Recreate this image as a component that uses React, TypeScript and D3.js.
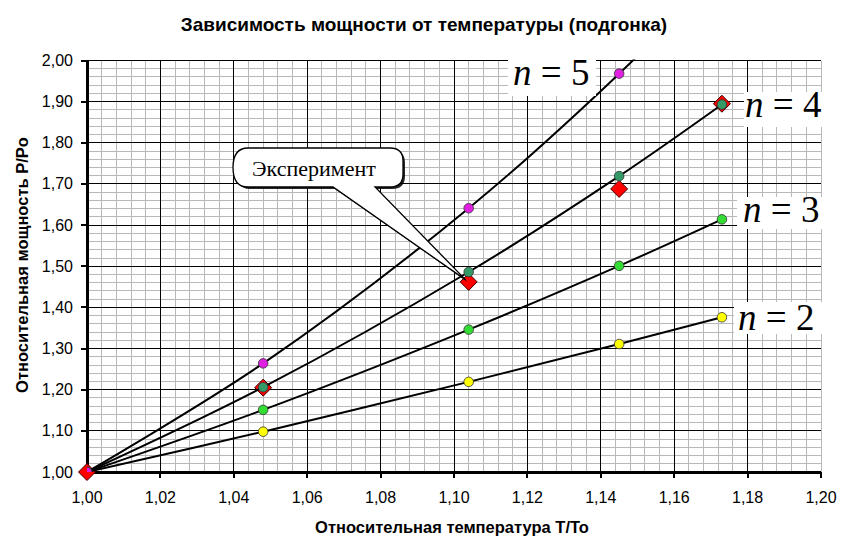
import React from 'react';
import * as d3 from 'd3';

// relative temperature T/To at the measured points
const tRel = [1.0, 1.048, 1.104, 1.145, 1.173];

// fitted curves P/Po for different exponents n
const fitN2 = [1.0, 1.098, 1.219, 1.311, 1.376];
const fitN3 = [1.0, 1.151, 1.346, 1.501, 1.614];
const fitN4 = [1.0, 1.206, 1.486, 1.719, 1.893];
const fitN5 = [1.0, 1.264, 1.641, 1.968, 2.22];

// experiment
const experiment = [1.0, 1.205, 1.462, 1.688, 1.895];

const xTicks = [1.0, 1.02, 1.04, 1.06, 1.08, 1.1, 1.12, 1.14, 1.16, 1.18, 1.2];
const yTicks = [1.0, 1.1, 1.2, 1.3, 1.4, 1.5, 1.6, 1.7, 1.8, 1.9, 2.0];

const series = [
  { name: 'n = 2', label: '2', values: fitN2, color: '#ffff00' },
  { name: 'n = 3', label: '3', values: fitN3, color: '#33dd33' },
  { name: 'n = 4', label: '4', values: fitN4, color: '#339966' },
  { name: 'n = 5', label: '5', values: fitN5, color: '#e020e0' },
];

const W = 847;
const H = 553;
const plot = { left: 87, right: 821, top: 60.5, bottom: 472 };

const fmt = (v: number) => v.toFixed(2).replace('.', ',');

export default function App() {
  const x = d3.scaleLinear().domain([1.0, 1.2]).range([plot.left, plot.right]);
  const y = d3.scaleLinear().domain([1.0, 2.0]).range([plot.bottom, plot.top]);

  const minorX = d3.range(0, 51).map((i) => 1.0 + i * 0.004);
  const minorY = d3.range(0, 51).map((i) => 1.0 + i * 0.02);

  const line = d3
    .line<number>()
    .x((_, i) => x(tRel[i]))
    .y((d) => y(d))
    .curve(d3.curveCatmullRom.alpha(0.5));

  const sans = '"Liberation Sans", Arial, sans-serif';
  const serif = '"Liberation Serif", "Times New Roman", serif';

  // callout pointing at the third experimental point
  const tipX = x(tRel[2]) - 3;
  const tipY = y(experiment[2]) - 2;
  const bx0 = 235, bx1 = 403, by0 = 148, by1 = 187, r = 13;
  const callout = `M${bx0 + r},${by0} H${bx1 - r} Q${bx1},${by0} ${bx1},${by0 + r} V${by1 - r} Q${bx1},${by1} ${bx1 - r},${by1} H375 L${tipX},${tipY} L333,${by1} H${bx0 + r} Q${bx0 - 2},${by1} ${bx0 - 2},${(by0 + by1) / 2} Q${bx0 - 2},${by0} ${bx0 + r},${by0} Z`;

  // "n = k" label boxes
  const labels = [
    { k: '5', bx: 508, by: 58, bw: 88, bh: 38, tx: 513, ty: 85 },
    { k: '4', bx: 744, by: 92, bw: 103, bh: 35, tx: 745, ty: 117 },
    { k: '3', bx: 737, by: 197, bw: 90, bh: 32, tx: 743, ty: 222 },
    { k: '2', bx: 734, by: 302, bw: 92, bh: 32, tx: 738, ty: 330 },
  ];

  return (
    <div style={{ position: 'absolute', left: 0, top: 0 }}>
      <svg width={W} height={H} style={{ display: 'block', background: '#ffffff' }}>
        <defs>
          <clipPath id="plotClip">
            <rect x={plot.left} y={plot.top - 1} width={plot.right - plot.left} height={plot.bottom - plot.top + 1} />
          </clipPath>
        </defs>

        {/* title */}
        <text x={424} y={31} textAnchor="middle" fontFamily={sans} fontWeight="bold" fontSize={19}>
          Зависимость мощности от температуры (подгонка)
        </text>

        {/* minor grid */}
        <g stroke="#b8b8b8" strokeWidth={1} shapeRendering="crispEdges">
          {minorX.map((v, i) => (
            <line key={'mx' + i} x1={x(v)} x2={x(v)} y1={plot.top} y2={plot.bottom} />
          ))}
          {minorY.map((v, i) => (
            <line key={'my' + i} x1={plot.left} x2={plot.right} y1={y(v)} y2={y(v)} />
          ))}
        </g>

        {/* major grid */}
        <g stroke="#000000" strokeWidth={1} shapeRendering="crispEdges">
          {xTicks.slice(0, -1).map((v) => (
            <line key={'gx' + v} x1={x(v)} x2={x(v)} y1={plot.top} y2={plot.bottom} />
          ))}
          {yTicks.map((v) => (
            <line key={'gy' + v} x1={plot.left} x2={plot.right} y1={y(v)} y2={y(v)} />
          ))}
        </g>

        {/* axes */}
        <g stroke="#000000" shapeRendering="crispEdges">
          <line x1={plot.left} x2={plot.left} y1={plot.top} y2={plot.bottom + 1.5} strokeWidth={3} />
          <line x1={plot.left - 1.5} x2={plot.right} y1={plot.bottom} y2={plot.bottom} strokeWidth={3} />
          {yTicks.map((v) => (
            <line key={'ty' + v} x1={plot.left - 6} x2={plot.left} y1={y(v)} y2={y(v)} strokeWidth={2} />
          ))}
          {xTicks.map((v) => (
            <line key={'tx' + v} x1={x(v)} x2={x(v)} y1={plot.bottom} y2={plot.bottom + 6} strokeWidth={2} />
          ))}
        </g>

        {/* tick labels */}
        <g fontFamily={sans} fontSize={16} fill="#000000">
          {yTicks.map((v) => (
            <text key={'ly' + v} x={73} y={y(v) + 5.5} textAnchor="end">
              {fmt(v)}
            </text>
          ))}
          {xTicks.map((v) => (
            <text key={'lx' + v} x={x(v)} y={503} textAnchor="middle">
              {fmt(v)}
            </text>
          ))}
        </g>

        {/* axis titles */}
        <text x={452} y={533} textAnchor="middle" fontFamily={sans} fontWeight="bold" fontSize={16.5}>
          Относительная температура T/To
        </text>
        <text
          transform={`translate(28,${265}) rotate(-90)`}
          textAnchor="middle"
          fontFamily={sans}
          fontWeight="bold"
          fontSize={16.5}
        >
          Относительная мощность P/Po
        </text>

        {/* experiment markers */}
        <g>
          {experiment.map((v, i) => {
            const cx = x(tRel[i]);
            const cy = y(v);
            const s = 8.5;
            return (
              <path
                key={'e' + i}
                d={`M${cx},${cy - s} L${cx + s},${cy} L${cx},${cy + s} L${cx - s},${cy} Z`}
                fill="#ff0000"
                stroke="#400000"
                strokeWidth={1}
              />
            );
          })}
        </g>

        {/* fitted curves */}
        <g clipPath="url(#plotClip)">
          {series.map((s) => (
            <g key={s.name}>
              <path d={line(s.values) || ''} fill="none" stroke="#000000" strokeWidth={2} />
              {s.values.map((v, i) => (
                <circle key={i} cx={x(tRel[i])} cy={y(v)} r={4.8} fill={s.color} stroke="#333333" strokeWidth={0.8} />
              ))}
            </g>
          ))}
        </g>

        {/* n = k labels */}
        {labels.map((l) => (
          <g key={'n' + l.k}>
            <rect x={l.bx} y={l.by} width={l.bw} height={l.bh} fill="#ffffff" />
            <text x={l.tx} y={l.ty} fontFamily={serif} fontSize={37} fill="#000000">
              <tspan fontStyle="italic">n</tspan>
              <tspan> = {l.k}</tspan>
            </text>
          </g>
        ))}

        {/* callout */}
        <path d={callout} transform="translate(2,2)" fill="#000000" opacity={0.85} />
        <path d={callout} fill="#ffffff" stroke="#000000" strokeWidth={1.3} />
        <text x={252} y={176} fontFamily={serif} fontSize={22} fill="#000000">
          Эксперимент
        </text>
      </svg>
    </div>
  );
}
